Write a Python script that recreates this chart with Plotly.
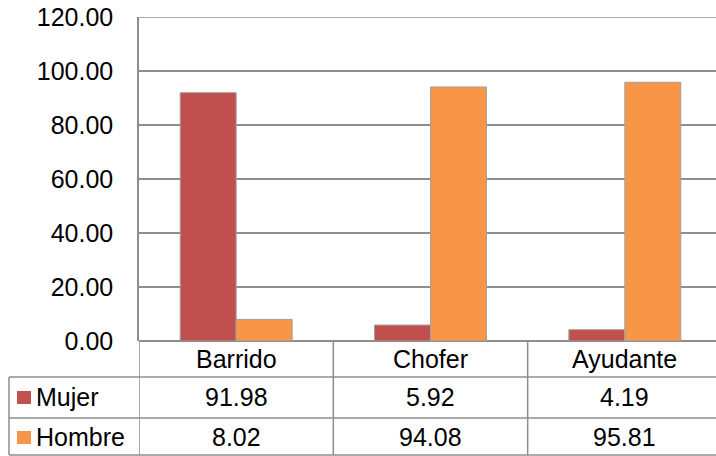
import plotly.graph_objects as go

categories = ["Barrido", "Chofer", "Ayudante"]
series_names = ["Mujer", "Hombre"]
mujer = [91.98, 5.92, 4.19]
hombre = [8.02, 94.08, 95.81]
series_values = [mujer, hombre]
colors = ["#C0504D", "#F79646"]
y_ticks = [0, 20, 40, 60, 80, 100, 120]

W, H = 716, 456
def px(x):
    return x / W
def py(y):
    return 1 - y / H

FONT = dict(family="Liberation Sans, Arial, sans-serif", size=25, color="#000000")
GRID = "#8E8E8E"

fig = go.Figure()
for name, vals, col in zip(series_names, series_values, colors):
    fig.add_trace(go.Bar(
        x=categories, y=vals, name=name,
        marker=dict(color=col, line=dict(color="#A0A0A0", width=1)),
        showlegend=False, hoverinfo="skip",
    ))

# plot area: x 139..722 (extends slightly past the image), y 17..341
x_left, x_right_full = 139, 722
cat_w = (x_right_full - x_left) / len(categories)
x_max = len(categories) - 0.5 - (x_right_full - W) / cat_w

shapes = []
# horizontal gridlines at the y ticks
for t in y_ticks:
    shapes.append(dict(type="line", xref="paper", yref="y", layer="below",
                       x0=px(x_left), x1=1, y0=t, y1=t,
                       line=dict(color=GRID, width=1.5)))
# table horizontal lines
for yy in [377, 418, 455]:
    shapes.append(dict(type="line", xref="paper", yref="paper",
                       x0=px(9), x1=1, y0=py(yy), y1=py(yy),
                       line=dict(color=GRID, width=1.5)))
# table vertical lines at category boundaries
for i in range(len(categories)):
    shapes.append(dict(type="line", xref="x", yref="paper",
                       x0=i - 0.5, x1=i - 0.5, y0=py(341), y1=py(455),
                       line=dict(color=GRID, width=1.5)))
# left border of the value rows
shapes.append(dict(type="line", xref="paper", yref="paper",
                   x0=px(9), x1=px(9), y0=py(377), y1=py(455),
                   line=dict(color=GRID, width=1.5)))

annotations = []
for i, c in enumerate(categories):
    annotations.append(dict(x=c, xref="x", y=py(359), yref="paper",
                            text=c, showarrow=False, font=FONT,
                            xanchor="center", yanchor="middle"))
row_y = [397, 437]
for r, (name, vals, col) in enumerate(zip(series_names, series_values, colors)):
    for c, v in zip(categories, vals):
        annotations.append(dict(x=c, xref="x", y=py(row_y[r]), yref="paper",
                                text=f"{v:.2f}", showarrow=False, font=FONT,
                                xanchor="center", yanchor="middle"))
    # legend key
    shapes.append(dict(type="rect", xref="paper", yref="paper",
                       x0=px(17), x1=px(31), y0=py(row_y[r] - 6), y1=py(row_y[r] + 7),
                       fillcolor=col, line=dict(width=0)))
    annotations.append(dict(x=px(34), xref="paper", y=py(row_y[r]), yref="paper",
                            text=name, showarrow=False, font=FONT,
                            xanchor="left", yanchor="middle"))

fig.update_layout(
    width=W, height=H,
    margin=dict(l=0, r=0, t=0, b=0, pad=0, autoexpand=False),
    paper_bgcolor="white", plot_bgcolor="white",
    barmode="group", bargap=0.424, bargroupgap=0,
    font=FONT,
    xaxis=dict(domain=[px(x_left), 1], range=[-0.5, x_max], automargin=False,
               showticklabels=False, showgrid=False, zeroline=False,
               showline=False, ticks=""),
    yaxis=dict(domain=[py(341), py(17)], range=[0, 120], automargin=False,
               tickmode="array", tickvals=y_ticks, tickformat=".2f",
               showgrid=True, gridcolor=GRID, gridwidth=1.5,
               zeroline=True, zerolinecolor=GRID, zerolinewidth=1.5,
               showline=True, linecolor=GRID, linewidth=1.5,
               ticks="", ticklabelstandoff=19, tickfont=FONT),
    shapes=shapes, annotations=annotations,
)

fig.write_html("out.html", config={"displayModeBar": False},
               post_script="document.body.style.margin='0';document.body.style.padding='0';")
